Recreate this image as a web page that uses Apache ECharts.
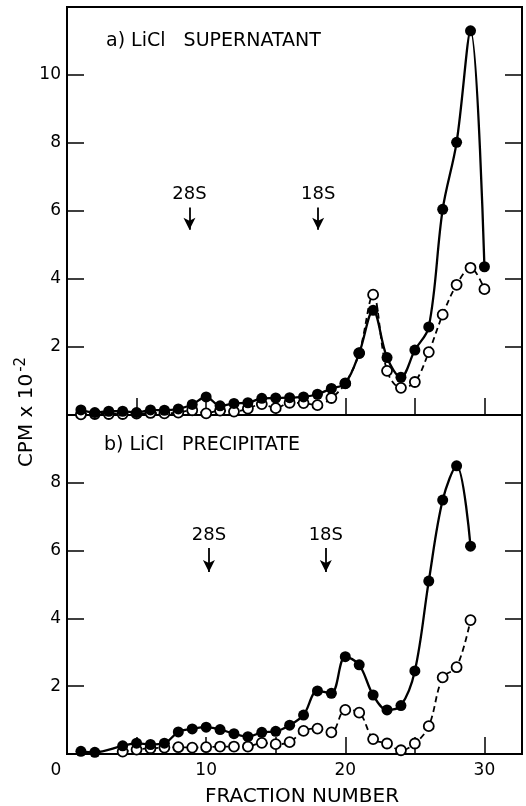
<!DOCTYPE html>
<html><head><meta charset="utf-8">
<script src="https://cdn.jsdelivr.net/npm/echarts@6/dist/echarts.min.js"></script>
<style>html,body{margin:0;padding:0;background:#fff}#c{width:526px;height:806px}</style>
</head><body><div id="c"></div>
<script>
// ---- data ----
const fractionsTop = [1,2,3,4,5,6,7,8,9,10,11,12,13,14,15,16,17,18,19,20,21,22,23,24,25,26,27,28,29,30];
const topFilled = [0.15,0.07,0.11,0.11,0.07,0.15,0.14,0.18,0.31,0.53,0.27,0.34,0.36,0.49,0.5,0.51,0.53,0.61,0.78,0.93,1.82,3.08,1.69,1.11,1.91,2.59,6.05,8.02,11.3,4.36];
const topOpen = [0.02,0.03,0.03,0.03,0.04,0.06,0.05,0.07,0.14,0.05,0.13,0.1,0.19,0.32,0.2,0.36,0.35,0.29,0.5,0.93,1.82,3.54,1.3,0.8,0.97,1.85,2.95,3.83,4.33,3.7];
const fractionsBottomFilled = [1,2,4,5,6,7,8,9,10,11,12,13,14,15,16,17,18,19,20,21,22,23,24,25,26,27,28,29];
const bottomFilled = [0.08,0.05,0.24,0.32,0.28,0.32,0.65,0.74,0.79,0.72,0.6,0.51,0.64,0.67,0.85,1.15,1.86,1.79,2.87,2.63,1.74,1.3,1.43,2.45,5.1,7.49,8.5,6.13];
const fractionsBottomOpen = [4,5,6,7,8,9,10,11,12,13,14,15,16,17,18,19,20,21,22,23,24,25,26,27,28,29];
const bottomOpen = [0.07,0.13,0.17,0.19,0.2,0.19,0.2,0.22,0.22,0.22,0.33,0.29,0.35,0.68,0.75,0.64,1.3,1.22,0.44,0.31,0.11,0.31,0.82,2.26,2.56,3.95];
const xTickLabels = [0,10,20,30];
const markerNames = ['28S','18S'];
const topMarkerX = [8.8,18.05];
const bottomMarkerX = [10.2,18.6];

const zip = (xs, ys) => xs.map((x, i) => [x, ys[i]]);
const font = 'DejaVu Sans';
const tick = {show:true, inside:true, length:17, lineStyle:{color:'#000', width:1.5}};

function arrows(xs, y0, y1){
  return {
    silent:true, animation:false,
    symbol:['none','arrow'], symbolSize:[9,12],
    lineStyle:{color:'#000', width:1.8, type:'solid'},
    label:{show:true, position:'start', distance:4, formatter:p => p.name, fontSize:18, fontFamily:font, color:'#000'},
    emphasis:{disabled:true},
    data: xs.map((x, i) => [{name:markerNames[i], coord:[x, y0]}, {coord:[x, y1]}])
  };
}
function openSeries(xi, yi, xs, ys){
  return {type:'line', xAxisIndex:xi, yAxisIndex:yi, data:zip(xs, ys), smooth:0.35,
    symbol:'circle', symbolSize:10, lineStyle:{color:'#000', width:1.8, type:[6,4]},
    itemStyle:{color:'#fff', borderColor:'#000', borderWidth:1.8}, z:2, silent:true};
}
function filledSeries(xi, yi, xs, ys, ml){
  return {type:'line', xAxisIndex:xi, yAxisIndex:yi, data:zip(xs, ys), smooth:0.35,
    symbol:'circle', symbolSize:11, lineStyle:{color:'#000', width:2.3},
    itemStyle:{color:'#000'}, z:3, silent:true, markLine:ml};
}
const xBase = {type:'value', min:0, max:32.7, interval:5, axisLine:{show:false}, axisTick:tick, splitLine:{show:false}};
const yLabel = (maxV) => ({margin:6, fontSize:17, fontFamily:font, color:'#000', formatter: v => (v > 0 && v < maxV) ? String(v) : ''});

const option = {
  animation:false,
  backgroundColor:'#fff',
  grid:[
    {left:67, right:4, top:7, height:408, show:true, borderColor:'#000', borderWidth:2},
    {left:67, right:4, top:415, height:339, show:true, borderColor:'#000', borderWidth:2}
  ],
  xAxis:[
    Object.assign({gridIndex:0, axisLabel:{show:false}}, xBase),
    Object.assign({gridIndex:1, axisLabel:{show:true, margin:8, fontSize:17, fontFamily:font, color:'#000',
      formatter: v => xTickLabels.includes(v) ? (v === 0 ? '{z|0}' : String(v)) : '',
      rich:{z:{fontSize:17, fontFamily:font, color:'#000', padding:[0,22,0,0]}}}}, xBase)
  ],
  yAxis:[
    {gridIndex:0, type:'value', min:0, max:12, interval:2, axisLine:{show:false}, axisTick:tick, axisLabel:yLabel(12), splitLine:{show:false}},
    {gridIndex:0, type:'value', position:'right', min:0, max:12, interval:2, axisLine:{show:false}, axisTick:tick, axisLabel:{show:false}, splitLine:{show:false}},
    {gridIndex:1, type:'value', min:0, max:10, interval:2, axisLine:{show:false}, axisTick:tick, axisLabel:yLabel(10), splitLine:{show:false}},
    {gridIndex:1, type:'value', position:'right', min:0, max:10, interval:2, axisLine:{show:false}, axisTick:tick, axisLabel:{show:false}, splitLine:{show:false}}
  ],
  series:[
    openSeries(0, 0, fractionsTop, topOpen),
    filledSeries(0, 0, fractionsTop, topFilled, arrows(topMarkerX, 6.1, 5.45)),
    openSeries(1, 2, fractionsBottomOpen, bottomOpen),
    filledSeries(1, 2, fractionsBottomFilled, bottomFilled, arrows(bottomMarkerX, 6.08, 5.37))
  ],
  graphic:[
    {type:'text', left:106, top:32, style:{text:'a) LiCl   SUPERNATANT', fontSize:19, fontFamily:font, fill:'#000'}},
    {type:'text', left:104, top:436, style:{text:'b) LiCl   PRECIPITATE', fontSize:19, fontFamily:font, fill:'#000'}},
    {type:'text', x:302, y:797, style:{text:'FRACTION NUMBER', fontSize:20, fontFamily:font, fill:'#000', align:'center', verticalAlign:'middle'}},
    {type:'text', x:27, y:412, rotation:Math.PI/2, style:{text:'CPM x 10{s|-2}', fontSize:20, fontFamily:font, fill:'#000', align:'center', verticalAlign:'middle',
      rich:{s:{fontSize:15, fontFamily:font, fill:'#000', padding:[0,0,12,2]}}}}
  ]
};
const chart = echarts.init(document.getElementById('c'), null, {renderer:'canvas'});
chart.setOption(option);
</script>
</body></html>
